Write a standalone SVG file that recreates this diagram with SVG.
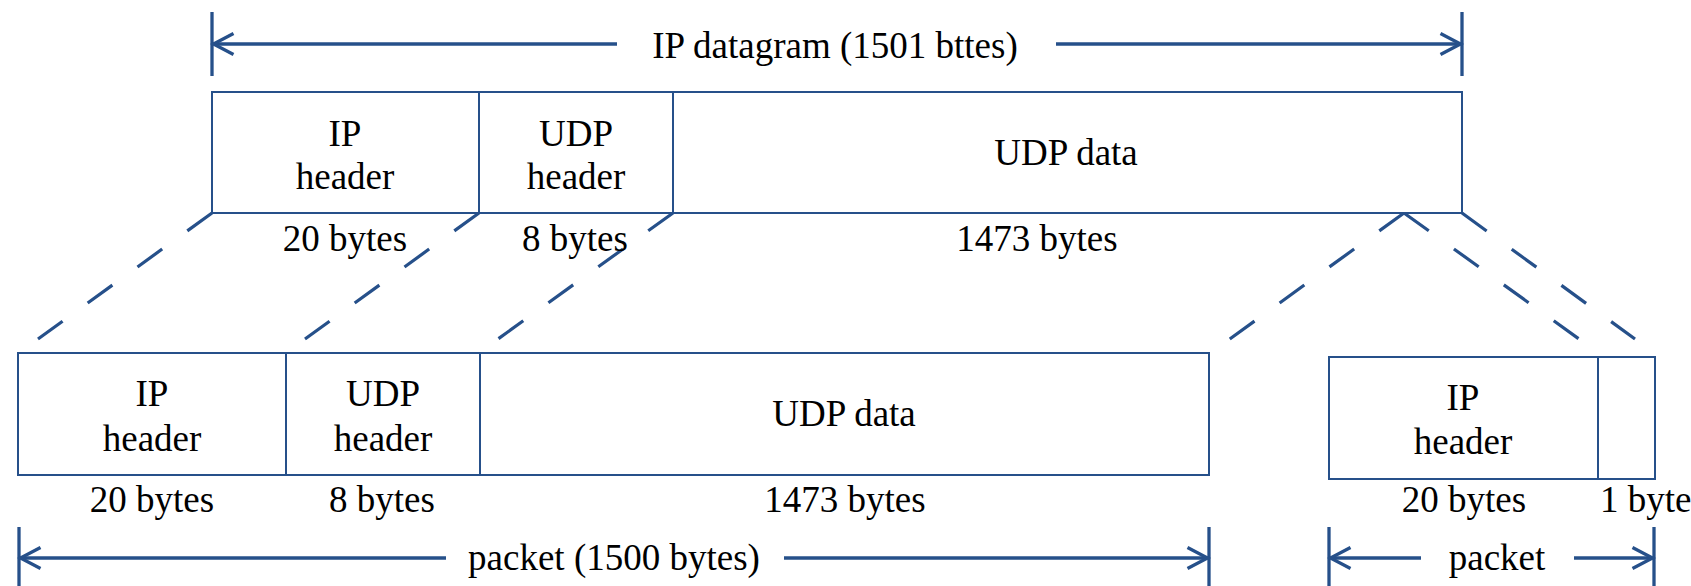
<svg xmlns="http://www.w3.org/2000/svg" width="1691" height="586" viewBox="0 0 1691 586">
<defs>
<style>
.t{font-family:"Liberation Serif","Times New Roman",serif;font-size:37px;fill:#000;text-anchor:middle}
.box{fill:#fff;stroke:#26508A;stroke-width:2}
.dv{stroke:#26508A;stroke-width:2}
.dim{stroke:#26508A;stroke-width:3.3;fill:none}
.dash{stroke:#26508A;stroke-width:3.2;fill:none;stroke-dasharray:30.5 31}
</style>
<marker id="arr" markerUnits="userSpaceOnUse" markerWidth="30" markerHeight="30" viewBox="-25 -15 30 30" refX="0" refY="0" orient="auto" overflow="visible">
<path d="M-20,-10.5 L0,0 L-20,10.5" fill="none" stroke="#26508A" stroke-width="3.3"/>
</marker>
</defs>
<rect width="1691" height="586" fill="#fff"/>

<g id="connectors">
<line class="dash" x1="212" y1="213" x2="38" y2="339"/>
<line class="dash" x1="479" y1="213" x2="305" y2="339"/>
<line class="dash" x1="673" y1="213" x2="498" y2="339"/>
<line class="dash" x1="1404" y1="213" x2="1227" y2="341"/>
<line class="dash" x1="1404" y1="213" x2="1579" y2="339"/>
<line class="dash" x1="1462" y1="213" x2="1635" y2="339"/>
</g>

<g id="dim-datagram">
<line class="dim" x1="212" y1="12" x2="212" y2="76"/>
<line class="dim" x1="1462" y1="12" x2="1462" y2="76"/>
<line class="dim" x1="617" y1="44" x2="213.5" y2="44" marker-end="url(#arr)"/>
<line class="dim" x1="1056" y1="44" x2="1460.5" y2="44" marker-end="url(#arr)"/>
<text class="t" x="835" y="58">IP datagram (1501 bttes)</text>
</g>

<g id="datagram">
<rect class="box" x="212" y="92" width="1250" height="121"/>
<line class="dv" x1="479" y1="92" x2="479" y2="213"/>
<line class="dv" x1="673" y1="92" x2="673" y2="213"/>
<text class="t" x="345" y="146">IP</text>
<text class="t" x="345" y="189">header</text>
<text class="t" x="576" y="146">UDP</text>
<text class="t" x="576" y="189">header</text>
<text class="t" x="1066" y="165">UDP data</text>
<text class="t" x="345" y="251">20 bytes</text>
<text class="t" x="575" y="251">8 bytes</text>
<text class="t" x="1037" y="251">1473 bytes</text>
</g>

<g id="packet1">
<rect class="box" x="18" y="353" width="1191" height="122"/>
<line class="dv" x1="286" y1="353" x2="286" y2="475"/>
<line class="dv" x1="480" y1="353" x2="480" y2="475"/>
<text class="t" x="152" y="406">IP</text>
<text class="t" x="152" y="451">header</text>
<text class="t" x="383" y="406">UDP</text>
<text class="t" x="383" y="451">header</text>
<text class="t" x="844" y="426">UDP data</text>
<text class="t" x="152" y="512">20 bytes</text>
<text class="t" x="382" y="512">8 bytes</text>
<text class="t" x="845" y="512">1473 bytes</text>
</g>

<g id="dim-packet1">
<line class="dim" x1="19" y1="527" x2="19" y2="586"/>
<line class="dim" x1="1209" y1="527" x2="1209" y2="586"/>
<line class="dim" x1="446" y1="558" x2="20.5" y2="558" marker-end="url(#arr)"/>
<line class="dim" x1="784" y1="558" x2="1207.5" y2="558" marker-end="url(#arr)"/>
<text class="t" x="614" y="570">packet (1500 bytes)</text>
</g>

<g id="packet2">
<rect class="box" x="1329" y="357" width="326" height="122"/>
<line class="dv" x1="1598" y1="357" x2="1598" y2="479"/>
<text class="t" x="1463" y="410">IP</text>
<text class="t" x="1463" y="454">header</text>
<text class="t" x="1464" y="512">20 bytes</text>
<text class="t" x="1600" y="512" style="text-anchor:start">1 byte</text>
</g>

<g id="dim-packet2">
<line class="dim" x1="1329" y1="527" x2="1329" y2="586"/>
<line class="dim" x1="1654" y1="527" x2="1654" y2="586"/>
<line class="dim" x1="1421" y1="558" x2="1330.5" y2="558" marker-end="url(#arr)"/>
<line class="dim" x1="1574" y1="558" x2="1652.5" y2="558" marker-end="url(#arr)"/>
<text class="t" x="1497" y="570">packet</text>
</g>
</svg>
